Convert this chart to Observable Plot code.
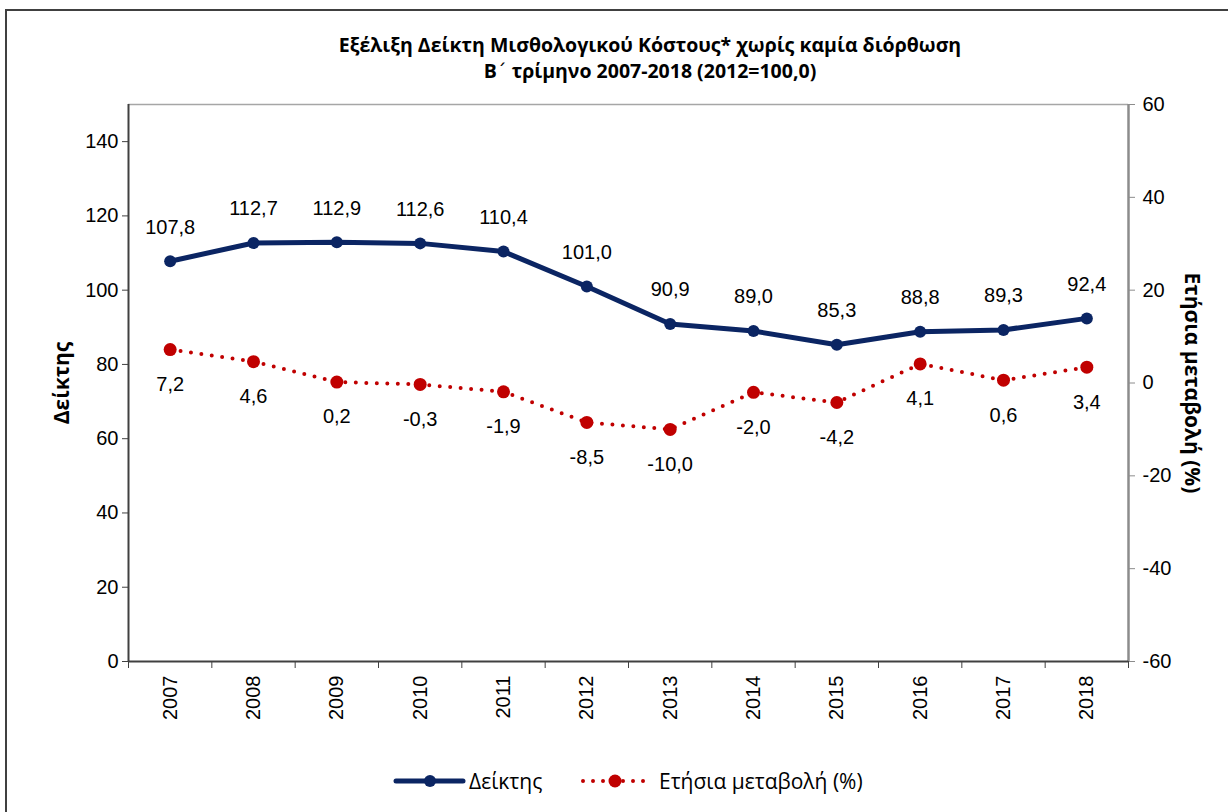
<!DOCTYPE html>
<html>
<head>
<meta charset="utf-8">
<script src="https://cdn.jsdelivr.net/npm/d3@7"></script>
<script src="https://cdn.jsdelivr.net/npm/@observablehq/plot@0.6"></script>
<style>
  html, body { margin: 0; padding: 0; background: #fff; }
  #wrap { position: relative; width: 1228px; height: 812px; overflow: hidden; }
  #box { position: absolute; left: 5px; top: 9px; width: 1300px; height: 900px; border: 2px solid #404040; box-sizing: border-box; }
  #title { position: absolute; left: 0; width: 1300px; top: 32px; text-align: center; font-family: "Open Sans", sans-serif; font-weight: bold; font-size: 19.5px; line-height: 26px; color: #000; }
  #chart { position: absolute; left: 0; top: 94px; }
  .ytitle { position: absolute; font-family: "Open Sans", sans-serif; font-weight: bold; font-size: 21px; white-space: nowrap; color: #000; }
  #legend { position: absolute; top: 765px; left: 0; height: 32px; font-family: "Open Sans", sans-serif; font-size: 21px; color: #000; }
  #legend svg { position: absolute; top: 0; }
  #legend span { position: absolute; top: 0px; line-height: 32px; white-space: nowrap; }
  .tonos { font-family: "DejaVu Sans", sans-serif; font-weight: normal; }
</style>
</head>
<body>
<div id="wrap">
  <div id="box"></div>
  <div id="title">Εξέλιξη Δείκτη Μισθολογικού Κόστους* χωρίς καμία διόρθωση<br>Β<span class="tonos">΄</span> τρίμηνο 2007-2018 (2012=100,0)</div>
  <div id="chart"></div>
  <div class="ytitle" id="ylt" style="left:61px; top:383px; transform: translate(-50%,-50%) rotate(-90deg);">Δείκτης</div>
  <div class="ytitle" id="yrt" style="left:1193px; top:383px; transform: translate(-50%,-50%) rotate(90deg);">Ετήσια μεταβολή (%)</div>
  <div id="legend">
    <svg width="1228" height="32">
      <line x1="396" x2="463" y1="16" y2="16" stroke="#0b2563" stroke-width="5" stroke-linecap="round"/>
      <circle cx="430" cy="16" r="6" fill="#0b2563"/>
      <line x1="583" x2="646" y1="16" y2="16" stroke="#c00000" stroke-width="4" stroke-linecap="round" stroke-dasharray="0 10"/>
      <circle cx="615" cy="16" r="6.5" fill="#c00000"/>
    </svg>
    <span style="left:469px">Δείκτης</span>
    <span style="left:659px">Ετήσια μεταβολή (%)</span>
  </div>
</div>
<script>
const years = [2007, 2008, 2009, 2010, 2011, 2012, 2013, 2014, 2015, 2016, 2017, 2018];
const indexValues = [107.8, 112.7, 112.9, 112.6, 110.4, 101.0, 90.9, 89.0, 85.3, 88.8, 89.3, 92.4];
const changeValues = [7.2, 4.6, 0.2, -0.3, -1.9, -8.5, -10.0, -2.0, -4.2, 4.1, 0.6, 3.4];
const leftTicks = [0, 20, 40, 60, 80, 100, 120, 140];
const rightTicks = [-60, -40, -20, 0, 20, 40, 60];

// right axis (-60..60) mapped onto left axis (0..150)
const toLeft = v => (v + 60) * 150 / 120;
const fromLeft = v => v * 120 / 150 - 60;
const fmt = v => v.toFixed(1).replace(".", ",");

const idx = years.map((y, i) => ({year: y, v: indexValues[i]}));
const chg = years.map((y, i) => ({year: y, v: changeValues[i]}));
const bounds = d3.range(years[0] - 0.5, years[years.length - 1] + 1, 1);

const navy = "#0b2563", red = "#c00000";

const plot = Plot.plot({
  width: 1228,
  height: 656,
  marginLeft: 128,
  marginRight: 100,
  marginTop: 10,
  marginBottom: 89,
  x: {type: "linear", domain: [years[0] - 0.5, years[years.length - 1] + 0.5]},
  y: {domain: [0, 150]},
  style: {fontFamily: "'Liberation Sans', Arial, sans-serif", fontSize: "20px", color: "#000", background: "transparent"},
  marks: [
    Plot.ruleY([150], {stroke: "#a6a6a6", strokeWidth: 1.5}),
    Plot.ruleX([years[years.length - 1] + 0.5], {stroke: "#8c8c8c", strokeWidth: 2.5}),
    Plot.axisY({anchor: "left", ticks: leftTicks, tickSize: 6, tickPadding: 4, label: null, stroke: "#404040", fontSize: 20}),
    Plot.axisY({anchor: "right", ticks: rightTicks.map(toLeft), tickFormat: v => String(Math.round(fromLeft(v))), tickSize: 6, tickPadding: 8, label: null, stroke: "#8c8c8c", fontSize: 20}),
    Plot.axisX({ticks: bounds, tickFormat: () => "", tickSize: 7, label: null, stroke: "#404040"}),
    Plot.axisX({ticks: years, tickFormat: d => String(d), tickSize: 0, tickPadding: 14, tickRotate: -90, label: null, fontSize: 20}),
    Plot.ruleX([years[0] - 0.5], {stroke: "#404040", strokeWidth: 2}),
    Plot.ruleY([0], {stroke: "#404040", strokeWidth: 2}),
    Plot.line(chg, {x: "year", y: d => toLeft(d.v), stroke: red, strokeWidth: 4, strokeLinecap: "round", strokeDasharray: "0 10.5"}),
    Plot.dot(chg, {x: "year", y: d => toLeft(d.v), r: 6.5, fill: red}),
    Plot.line(idx, {x: "year", y: "v", stroke: navy, strokeWidth: 5}),
    Plot.dot(idx, {x: "year", y: "v", r: 6, fill: navy}),
    Plot.text(idx, {x: "year", y: "v", text: d => fmt(d.v), dy: -34, fontSize: 20, fill: "#000"}),
    Plot.text(chg, {x: "year", y: d => toLeft(d.v), text: d => fmt(d.v), dy: 35, fontSize: 20, fill: "#000"})
  ]
});
document.getElementById("chart").appendChild(plot);
</script>
</body>
</html>
